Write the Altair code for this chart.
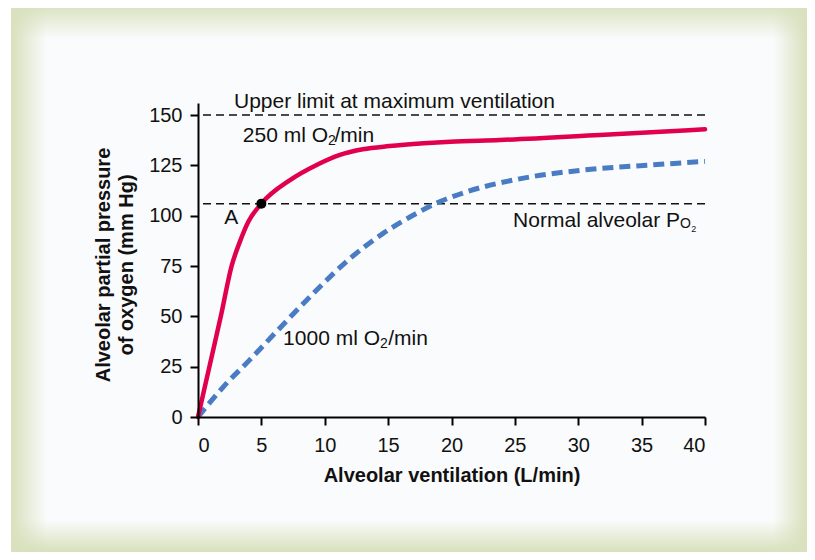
import altair as alt
import pandas as pd

# ---------------- data ----------------
# 250 ml O2/min curve (solid red)
red_x = [0, 0.9, 1.8, 2.65, 3.3, 3.97, 5.0, 7.26, 9.36, 11.2, 13.0, 15.1, 17.8, 19.9, 23.8, 31.7, 40]
red_y = [0, 25, 50, 75, 87, 97, 106, 117.7, 125.2, 130.2, 133.0, 134.6, 136.0, 136.8, 137.6, 140.1, 142.9]

# 1000 ml O2/min curve (dashed blue)
blue_x = [0, 2.0, 4.1, 6.73, 9.36, 12.0, 14.6, 17.25, 18.8, 21.2, 25.1, 30.4, 35.7, 40]
blue_y = [0, 15.0, 28.5, 46.0, 63.1, 78.8, 91.2, 101.2, 106.2, 111.9, 118.0, 122.7, 125.2, 127.0]

# reference levels: upper limit (150) and normal alveolar PO2 (106)
ref_levels = [150, 106]

# point A
point_x = [5]
point_y = [106]

x_ticks = [0, 5, 10, 15, 20, 25, 30, 35, 40]
y_ticks = [0, 25, 50, 75, 100, 125, 150]

# annotation texts and their anchors in data units
label_text = ["Upper limit at maximum ventilation",
              "250 ml O", "2", "/min",
              "1000 ml O", "2", "/min",
              "A",
              "Normal alveolar P", "O", "2"]
label_x = [2.84, 10.26, 10.26, 10.77, 14.36, 14.36, 15.01, 2.63, 38.03, 38.03, 38.92]
label_y = [153.5, 136.8, 135.1, 136.8, 35.8, 34.1, 35.8, 95.9, 94.2, 93.7, 92.1]

y_title_lines = ["Alveolar partial pressure", "of oxygen (mm Hg)"]
x_title = "Alveolar ventilation (L/min)"

# ---------------- styles ----------------
FONT = "Liberation Sans"
RED = "#e1004c"
BLUE = "#4a7cc3"
GREEN = "216,224,188"

label_align = ["left", "right", "left", "left", "right", "left", "left", "center", "right", "left", "left"]
label_size = [21, 21, 14, 21, 21, 14, 21, 21, 21, 14, 9]

W, H = 507, 314

red_df = pd.DataFrame({"x": red_x, "y": red_y})
blue_df = pd.DataFrame({"x": blue_x, "y": blue_y})
ref_df = pd.DataFrame({"y": ref_levels})
pt_df = pd.DataFrame({"x": point_x, "y": point_y})
one = pd.DataFrame({"a": [0]})

x_enc = alt.X("x:Q",
              scale=alt.Scale(domain=[0, 40], nice=False, zero=False),
              axis=alt.Axis(values=x_ticks, title=x_title, tickSize=8, labelPadding=10,
                            titlePadding=10, titleFontSize=20, titleFontWeight="bold",
                            labelFontSize=20, zindex=1))
y_enc = alt.Y("y:Q",
              scale=alt.Scale(domain=[0, 156], nice=False, zero=False),
              axis=alt.Axis(values=y_ticks, title=None, tickSize=8, labelPadding=8,
                            labelFontSize=20, zindex=1))


def grad(x1, y1, x2, y2):
    return alt.LinearGradient(
        gradient="linear", x1=x1, y1=y1, x2=x2, y2=y2,
        stops=[alt.GradientStop(color=f"rgba({GREEN},1)", offset=0),
               alt.GradientStop(color=f"rgba({GREEN},0.5)", offset=0.5),
               alt.GradientStop(color=f"rgba({GREEN},0)", offset=1)])


def frame_rect(x0, x1, y0, y1, fill):
    return alt.Chart(one).mark_rect(fill=fill, strokeWidth=0).encode(
        x=alt.value(x0), x2=alt.value(x1), y=alt.value(y0), y2=alt.value(y1))


# decorative frame (pixel positions relative to the plot area)
L, R, T, B = -187, 609, -100, 449
band = 36
frame = [
    frame_rect(L, R, T, B, "#fafbfc"),
    frame_rect(L, R, T, T + band, grad(0, 0, 0, 1)),
    frame_rect(L, R, B - 32, B, grad(0, 1, 0, 0)),
    frame_rect(L, L + band, T, B, grad(0, 0, 1, 0)),
    frame_rect(R - 34, R, T, B, grad(1, 0, 0, 0)),
]

rules = alt.Chart(ref_df).mark_rule(color="#111", strokeWidth=1.5, strokeDash=[8, 5]).encode(y=y_enc)

blue = alt.Chart(blue_df).mark_line(color=BLUE, strokeWidth=5, strokeDash=[11, 6],
                                    interpolate="monotone", strokeCap="butt").encode(x=x_enc, y=y_enc)
red = alt.Chart(red_df).mark_line(color=RED, strokeWidth=4.5, interpolate="monotone",
                                  strokeCap="round").encode(x=x_enc, y=y_enc)
dot = alt.Chart(pt_df).mark_point(filled=True, color="#000", size=100, opacity=1).encode(x=x_enc, y=y_enc)

texts = []
for t, lx, ly, al, sz in zip(label_text, label_x, label_y, label_align, label_size):
    d = pd.DataFrame({"x": [lx], "y": [ly], "t": [t]})
    texts.append(alt.Chart(d).mark_text(align=al, baseline="alphabetic", font=FONT,
                                        fontSize=sz, color="#111").encode(
        x=x_enc, y=y_enc, text="t:N"))

ytitle = []
for i, line in enumerate(y_title_lines):
    ytitle.append(alt.Chart(one).mark_text(angle=270, align="center", baseline="alphabetic",
                                           font=FONT, fontSize=20, fontWeight="bold",
                                           color="#111").encode(
        x=alt.value(-88 + 23 * i), y=alt.value(162), text=alt.value(line)))

chart = alt.layer(*frame, rules, blue, red, dot, *texts, *ytitle).properties(
    width=W, height=H,
    autosize=alt.AutoSizeParams(type="none"),
    padding={"left": 190, "top": 95, "right": 102, "bottom": 143},
    background="white",
).configure_view(strokeWidth=0).configure_axis(
    domainColor="#000", domainWidth=2, tickColor="#000", tickWidth=2,
    labelFont=FONT, labelColor="#111", titleFont=FONT, titleColor="#111", grid=False,
)

chart.save("out.html", embed_options={"renderer": "svg", "actions": False})
